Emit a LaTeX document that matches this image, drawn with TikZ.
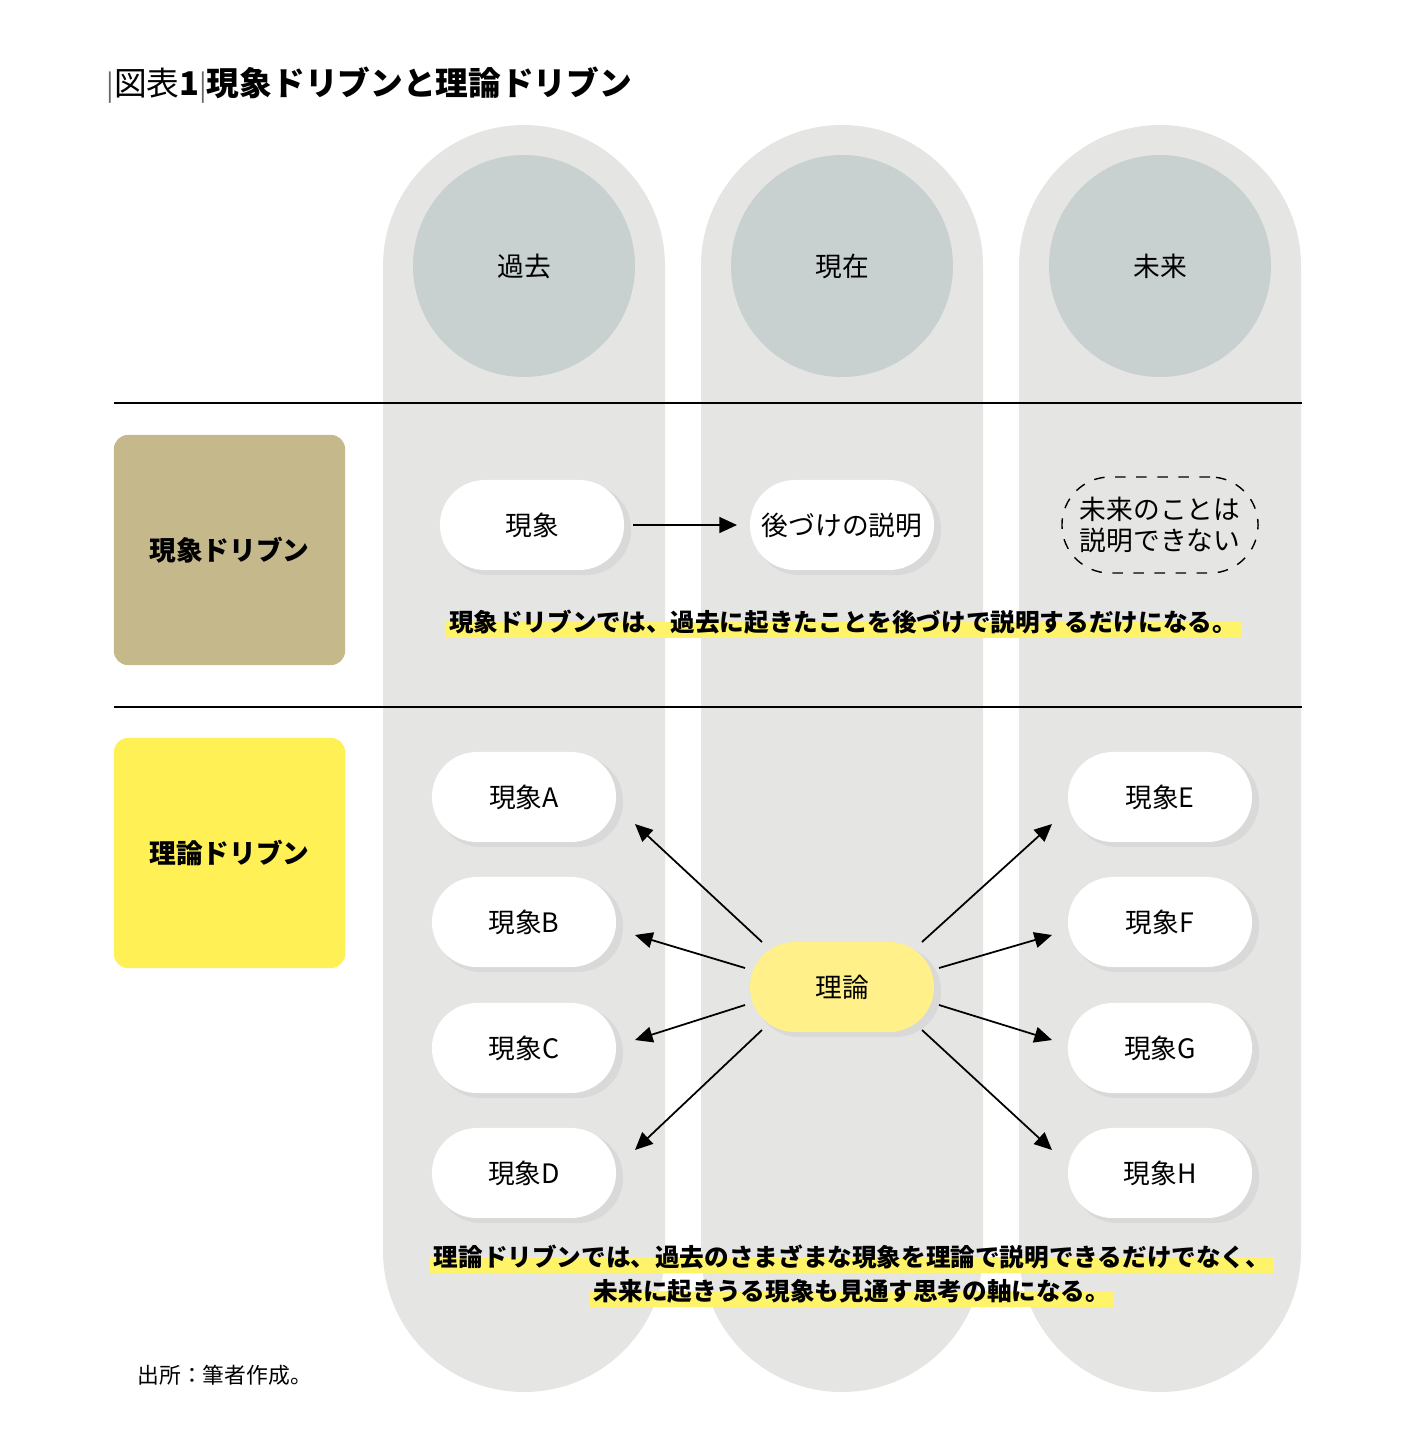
\documentclass[tikz,border=0pt]{standalone}
\usepackage{fontspec}
\setmainfont{Noto Sans CJK JP}
\usetikzlibrary{arrows.meta,calc}
\pgfdeclarelayer{background}\pgfdeclarelayer{mid}
\pgfsetlayers{background,mid,main}
\definecolor{pill}{HTML}{E5E5E4}
\definecolor{circ}{HTML}{C8D0D0}
\definecolor{olive}{HTML}{C5B98B}
\definecolor{yel}{HTML}{FFF056}
\definecolor{yel2}{HTML}{FFF08A}
\definecolor{hl}{HTML}{FFF36A}
\tikzset{
 nd/.style={rounded corners=0.45cm,minimum width=1.84cm,minimum height=0.9cm,fill=white,font=\fontsize{7.6}{9}\selectfont,inner sep=0},
 sh/.style={fill=black!15,rounded corners=0.45cm},
 ar/.style={-{Triangle[length=5pt,width=4.5pt]},line width=0.5pt},
 bx/.style={rounded corners=0.14cm,minimum width=2.31cm,minimum height=2.3cm,font=\fontsize{7.6}{9}\selectfont\bfseries},
 ht/.style={font=\fontsize{7}{10}\selectfont\bfseries,inner sep=0,align=center}
}
\newcommand\mynode[4][]{%
 \fill[sh] ($(#3)+(-88,-41)$) rectangle ($(#3)+(99,50)$);
 \node[nd,#1] (#2) at (#3) {#4};}
\begin{document}
\begin{tikzpicture}[x=0.01cm,y=-0.01cm]
\useasboundingbox (0,0) rectangle (1424,1436);
\begin{pgfonlayer}{background}
\foreach \x/\t/\n in {524/過去/pa,842/現在/pb,1160/未来/pc}{
 \fill[pill,rounded corners=1.409cm] (\x-141,125) rectangle (\x+141,1392);
 \fill[circ] (\x,266) circle (111);
 \node[font=\fontsize{7.6}{9}\selectfont] (\n) at (\x,266) {\t};}
\end{pgfonlayer}
\coordinate (l1a) at (114,403); \coordinate (l1b) at (1302,403);
\coordinate (l2a) at (114,707); \coordinate (l2b) at (1302,707);
\draw[line width=0.5pt] (l1a)--(l1b) (l2a)--(l2b);
\node[anchor=west,font=\fontsize{9.3}{11}\selectfont] (title) at (94,85) {\textcolor{black!60}{\fontsize{8}{9}\selectfont\textbar}図表\textbf{1}\textcolor{black!60}{\fontsize{8}{9}\selectfont\textbar}\textbf{現象ドリブンと理論ドリブン}};
\node[bx,fill=olive] (b1) at (229.5,550) {現象ドリブン};
\node[bx,fill=yel] (b2) at (229.5,853) {理論ドリブン};
\mynode{n1}{532,525}{現象}
\mynode{n2}{842,525}{後づけの説明}
\coordinate (a1) at (633,525); \coordinate (a2) at (737,525);
\draw[ar] (a1) -- (a2);
\node[draw,dashed,rounded corners=0.48cm,minimum width=1.96cm,minimum height=0.96cm,align=center,font=\fontsize{7.6}{9}\selectfont,inner sep=0] (n3) at (1160,525) {未来のことは\\説明できない};
\foreach \y/\l in {797/A,922/B,1048/C,1173/D}{\mynode{p\l}{524,\y}{現象\l}}
\foreach \y/\l in {797/E,922/F,1048/G,1173/H}{\mynode{p\l}{1160,\y}{現象\l}}
\mynode[fill=yel2]{th}{842,987}{理論}
\coordinate (sa) at (762,942); \coordinate (ea) at (635,824);
\coordinate (sb) at (745,968); \coordinate (eb) at (635,935);
\coordinate (sc) at (745,1005); \coordinate (ec) at (635,1040);
\coordinate (sd) at (762,1030); \coordinate (ed) at (635,1150);
\coordinate (se) at (922,942); \coordinate (ee) at (1052,824);
\coordinate (sf) at (939,968); \coordinate (ef) at (1052,935);
\coordinate (sg) at (939,1005); \coordinate (eg) at (1052,1040);
\coordinate (sh) at (922,1030); \coordinate (eh) at (1052,1150);
\foreach \i in {a,b,c,d,e,f,g,h}{\draw[ar] (s\i)--(e\i);}
\node[ht] (t1) at (843,622) {現象ドリブンでは、過去に起きたことを後づけで説明するだけになる。};
\node[ht] (t2) at (852,1257) {理論ドリブンでは、過去のさまざまな現象を理論で説明できるだけでなく、};
\node[ht] (t3) at (852,1291) {未来に起きうる現象も見通す思考の軸になる。};
\begin{pgfonlayer}{mid}
\foreach \t in {t1,t2,t3}{\fill[hl] ($(\t.west)+(-3,0)$) rectangle ($(\t.south east)+(3,3)$);}
\end{pgfonlayer}
\node[anchor=west,font=\fontsize{6.2}{8}\selectfont] (src) at (125,1375) {出所：筆者作成。};
\end{tikzpicture}
\end{document}
